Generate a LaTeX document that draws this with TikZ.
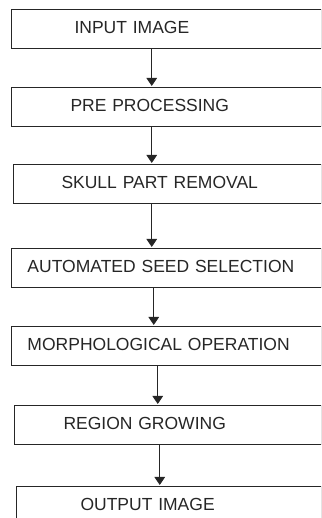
\documentclass[tikz,border=0pt]{standalone}
\usepackage{fontspec}
\setmainfont{Liberation Sans}
\usetikzlibrary{positioning,arrows.meta}

\begin{document}
\begin{tikzpicture}[
    x=1pt, y=1pt,
    box/.style={draw=black!85, line width=1pt, rectangle, minimum height=39pt,
        inner xsep=0pt, inner ysep=0pt, align=left, text depth=4pt, text=black!85,
        font=\fontsize{17.5}{20}\selectfont},
    arrow/.style={-{Triangle[length=8pt, width=10.5pt]}, line width=1pt, draw=black!85, shorten >=1.5pt}
]
    \useasboundingbox (0,0) rectangle (321,518);
    \clip (0,0) rectangle (321,518);

    % Blocks
    \node[box, text width=309.5pt, anchor=north west] (input) at (11,508.5) {\hspace*{63pt}INPUT IMAGE};
    \node[box, text width=309.5pt, below=38pt of input.south west, anchor=north west] (pre) {\hspace*{59pt}PRE PROCESSING};
    \node[box, text width=307.5pt, below=37pt of pre.south west, anchor=north west, xshift=2pt] (skull) {\hspace*{48pt}SKULL PART REMOVAL};
    \node[box, text width=309.5pt, below=44pt of skull.south west, anchor=north west, xshift=-2pt] (seed) {\hspace*{16pt}AUTOMATED SEED SELECTION};
    \node[box, text width=309.5pt, below=38pt of seed.south west, anchor=north west] (morph) {\hspace*{16pt}MORPHOLOGICAL OPERATION};
    \node[box, text width=306.5pt, below=39pt of morph.south west, anchor=north west, xshift=3pt] (region) {\hspace*{49pt}REGION GROWING};
    \node[box, text width=304.5pt, below=41pt of region.south west, anchor=north west, xshift=2pt] (output) {\hspace*{64pt}OUTPUT IMAGE};

    % gap in the border under region growing
    \draw[white, line width=1.6pt] ([xshift=-17.25pt]region.south) -- (region.south);

    % Arrows
    \draw[arrow] ([xshift=-14.5pt]input.south) -- ([xshift=-14.5pt]input.south |- pre.north);
    \draw[arrow] ([xshift=-14.5pt]pre.south) -- ([xshift=-14.5pt]pre.south |- skull.north);
    \draw[arrow] ([xshift=-15.5pt]skull.south) -- ([xshift=-15.5pt]skull.south |- seed.north);
    \draw[arrow] ([xshift=-12.5pt]seed.south) -- ([xshift=-12.5pt]seed.south |- morph.north);
    \draw[arrow] ([xshift=-8.5pt]morph.south) -- ([xshift=-8.5pt]morph.south |- region.north);
    \draw[arrow] ([xshift=-8pt]region.south) -- ([xshift=-8pt]region.south |- output.north);
\end{tikzpicture}
\end{document}
